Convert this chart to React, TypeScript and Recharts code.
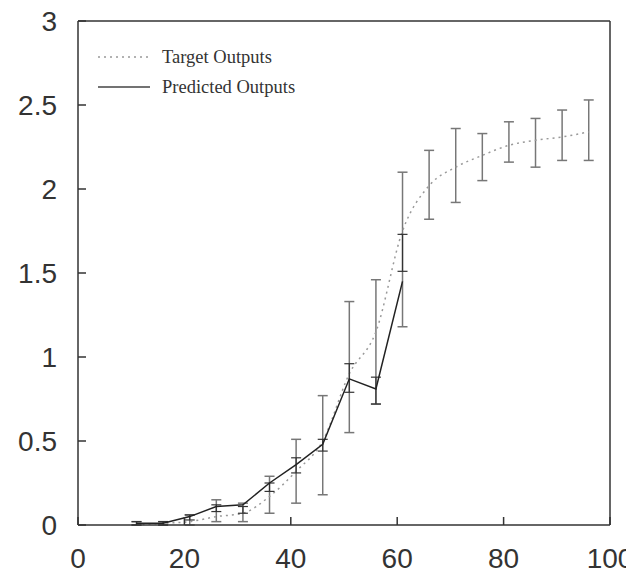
import React from "react";
import {
  ComposedChart,
  Line,
  XAxis,
  YAxis,
  ErrorBar,
} from "recharts";

// sample positions along x
const xs = [11, 16, 21, 26, 31, 36, 41, 46, 51, 56, 61, 66, 71, 76, 81, 86, 91, 96];

// target outputs (dotted) with their spread
const targetY = [0.0, 0.01, 0.02, 0.05, 0.07, 0.17, 0.32, 0.5, 0.9, 1.15, 1.75, 2.02, 2.13, 2.2, 2.26, 2.29, 2.31, 2.34];
const targetLow = [0.0, 0.0, 0.0, 0.02, 0.02, 0.07, 0.13, 0.18, 0.55, 0.72, 1.18, 1.82, 1.92, 2.05, 2.16, 2.13, 2.17, 2.17];
const targetHigh = [0.02, 0.02, 0.06, 0.15, 0.13, 0.29, 0.51, 0.77, 1.33, 1.46, 2.1, 2.23, 2.36, 2.33, 2.4, 2.42, 2.47, 2.53];

// predicted outputs (solid) with their spread
const predX = [11, 16, 21, 26, 31, 36, 41, 46, 51, 56, 61];
const predY = [0.01, 0.01, 0.05, 0.11, 0.12, 0.25, 0.36, 0.48, 0.87, 0.81, 1.45];
const predLow = [0.0, 0.0, 0.03, 0.08, 0.07, 0.2, 0.31, 0.44, 0.79, 0.72, 1.51];
const predHigh = [0.02, 0.02, 0.06, 0.12, 0.11, 0.25, 0.4, 0.51, 0.96, 0.88, 1.73];

const xTicks = [0, 20, 40, 60, 80, 100];
const yTicks = [0, 0.5, 1, 1.5, 2, 2.5, 3];

const targetData = xs.map((x, i) => ({
  x,
  y: targetY[i],
  err: [targetY[i] - targetLow[i], targetHigh[i] - targetY[i]],
}));

const predData = predX.map((x, i) => ({
  x,
  y: predY[i],
  err: [predY[i] - predLow[i], predHigh[i] - predY[i]],
}));

const tickFont = { fontFamily: "Liberation Sans, Arial, sans-serif", fontSize: 28, fill: "#333" };

const Legend = () => (
  <div
    style={{
      position: "absolute",
      left: 96,
      top: 42,
      fontFamily: "Liberation Serif, Times New Roman, serif",
      fontSize: 18.5,
      color: "#333",
      lineHeight: "30px",
    }}
  >
    <div style={{ display: "flex", alignItems: "center" }}>
      <svg width={56} height={10} style={{ marginRight: 10 }}>
        <line x1={2} y1={5} x2={54} y2={5} stroke="#999" strokeWidth={1.5} strokeDasharray="2 4" />
      </svg>
      Target Outputs
    </div>
    <div style={{ display: "flex", alignItems: "center" }}>
      <svg width={56} height={10} style={{ marginRight: 10 }}>
        <line x1={2} y1={5} x2={54} y2={5} stroke="#444" strokeWidth={1.5} />
      </svg>
      Predicted Outputs
    </div>
  </div>
);

export default function App() {
  return (
    <div style={{ position: "relative", width: 634, height: 577, margin: "-8px 0 0 -8px" }}>
      <ComposedChart
        width={634}
        height={577}
        margin={{ top: 20, right: 23, bottom: 12, left: 0 }}
      >
        <XAxis
          dataKey="x"
          type="number"
          domain={[0, 100]}
          ticks={xTicks}
          height={40}
          tickSize={-8}
          tickMargin={31}
          tick={tickFont}
          stroke="#333"
          strokeWidth={1.5}
        />
        <XAxis
          xAxisId="top"
          dataKey="x"
          orientation="top"
          type="number"
          domain={[0, 100]}
          ticks={xTicks}
          height={1}
          tickSize={-8}
          tick={false}
          stroke="#333"
          strokeWidth={1.5}
        />
        <YAxis
          type="number"
          domain={[0, 3]}
          ticks={yTicks}
          width={78}
          tickSize={-8}
          tickMargin={29}
          tick={tickFont}
          stroke="#333"
          strokeWidth={1.5}
        />
        <YAxis
          yAxisId="right"
          orientation="right"
          type="number"
          domain={[0, 3]}
          ticks={yTicks}
          width={1}
          tickSize={-8}
          tick={false}
          stroke="#333"
          strokeWidth={1.5}
        />
        {/* invisible series so the top and right frame axes get drawn */}
        <Line
          data={targetData}
          xAxisId="top"
          yAxisId="right"
          dataKey="y"
          stroke="none"
          dot={false}
          activeDot={false}
          legendType="none"
          isAnimationActive={false}
        />
        <Line
          data={targetData}
          dataKey="y"
          type="monotone"
          stroke="#999"
          strokeWidth={1.5}
          strokeDasharray="2 4"
          dot={false}
          isAnimationActive={false}
        >
          <ErrorBar dataKey="err" direction="y" width={5} stroke="#777" strokeWidth={1.5} />
        </Line>
        <Line
          data={predData}
          dataKey="y"
          type="linear"
          stroke="#222"
          strokeWidth={1.5}
          dot={false}
          isAnimationActive={false}
        >
          <ErrorBar dataKey="err" direction="y" width={5} stroke="#333" strokeWidth={1.2} />
        </Line>
      </ComposedChart>
      <Legend />
    </div>
  );
}
